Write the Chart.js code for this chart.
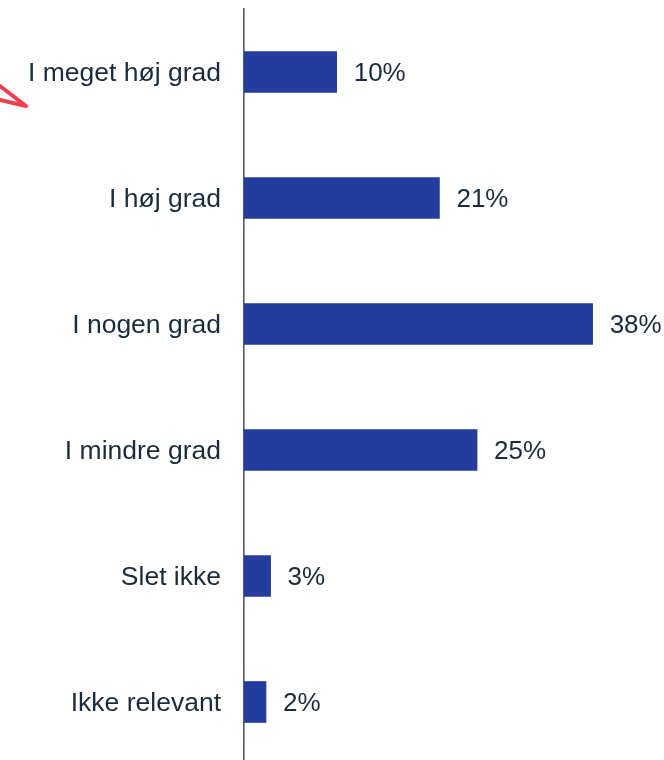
<!DOCTYPE html>
<html>
<head>
<meta charset="utf-8">
<script src="https://cdn.jsdelivr.net/npm/chart.js@4/dist/chart.umd.min.js"></script>
<style>
  html, body { margin: 0; padding: 0; background: #ffffff; overflow: hidden; }
  #wrap { position: relative; width: 664px; height: 766px; }
  #arrow { position: absolute; left: 0; top: 0; pointer-events: none; }
</style>
</head>
<body>
<div id="wrap">
  <canvas id="c" width="664" height="766"></canvas>
  <svg id="arrow" width="40" height="120">
    <polyline points="0,86 26,106 0,100" fill="none" stroke="#f0404f" stroke-width="4" stroke-linecap="round" stroke-linejoin="round"/>
  </svg>
</div>
<script>
const categories = ['I meget høj grad', 'I høj grad', 'I nogen grad', 'I mindre grad', 'Slet ikke', 'Ikke relevant'];
const values = [10.1, 21.3, 38.0, 25.4, 2.9, 2.4];
const valueLabels = ['10%', '21%', '38%', '25%', '3%', '2%'];

const FONT = '"Liberation Sans", Arial, Helvetica, sans-serif';
const TEXT = '#1b2b3c';

const valueLabelPlugin = {
  id: 'valueLabels',
  afterDatasetsDraw(chart) {
    const ctx = chart.ctx;
    const meta = chart.getDatasetMeta(0);
    ctx.save();
    ctx.font = '26px ' + FONT;
    ctx.fillStyle = TEXT;
    ctx.textAlign = 'left';
    ctx.textBaseline = 'middle';
    meta.data.forEach((bar, i) => {
      ctx.fillText(valueLabels[i], bar.x + 17, bar.y + 2);
    });
    ctx.restore();
  }
};

new Chart(document.getElementById('c'), {
  type: 'bar',
  data: {
    labels: categories,
    datasets: [{
      data: values,
      backgroundColor: '#243c9e',
      borderWidth: 0,
      barThickness: 41
    }]
  },
  options: {
    indexAxis: 'y',
    responsive: false,
    animation: false,
    layout: { padding: { top: 9, right: 53, bottom: 1, left: 0 } },
    plugins: {
      legend: { display: false },
      tooltip: { enabled: false }
    },
    scales: {
      x: {
        display: false,
        min: 0,
        max: 40
      },
      y: {
        afterFit(scale) {
          scale.width = 244;
          scale.paddingTop = 0;
          scale.paddingBottom = 0;
        },
        grid: { display: false, drawTicks: false },
        border: { display: true, color: '#4b5a6c', width: 1.6 },
        ticks: {
          padding: 23,
          labelOffset: 2,
          color: TEXT,
          font: { family: FONT, size: 26.5 }
        }
      }
    }
  },
  plugins: [valueLabelPlugin]
});
</script>
</body>
</html>
